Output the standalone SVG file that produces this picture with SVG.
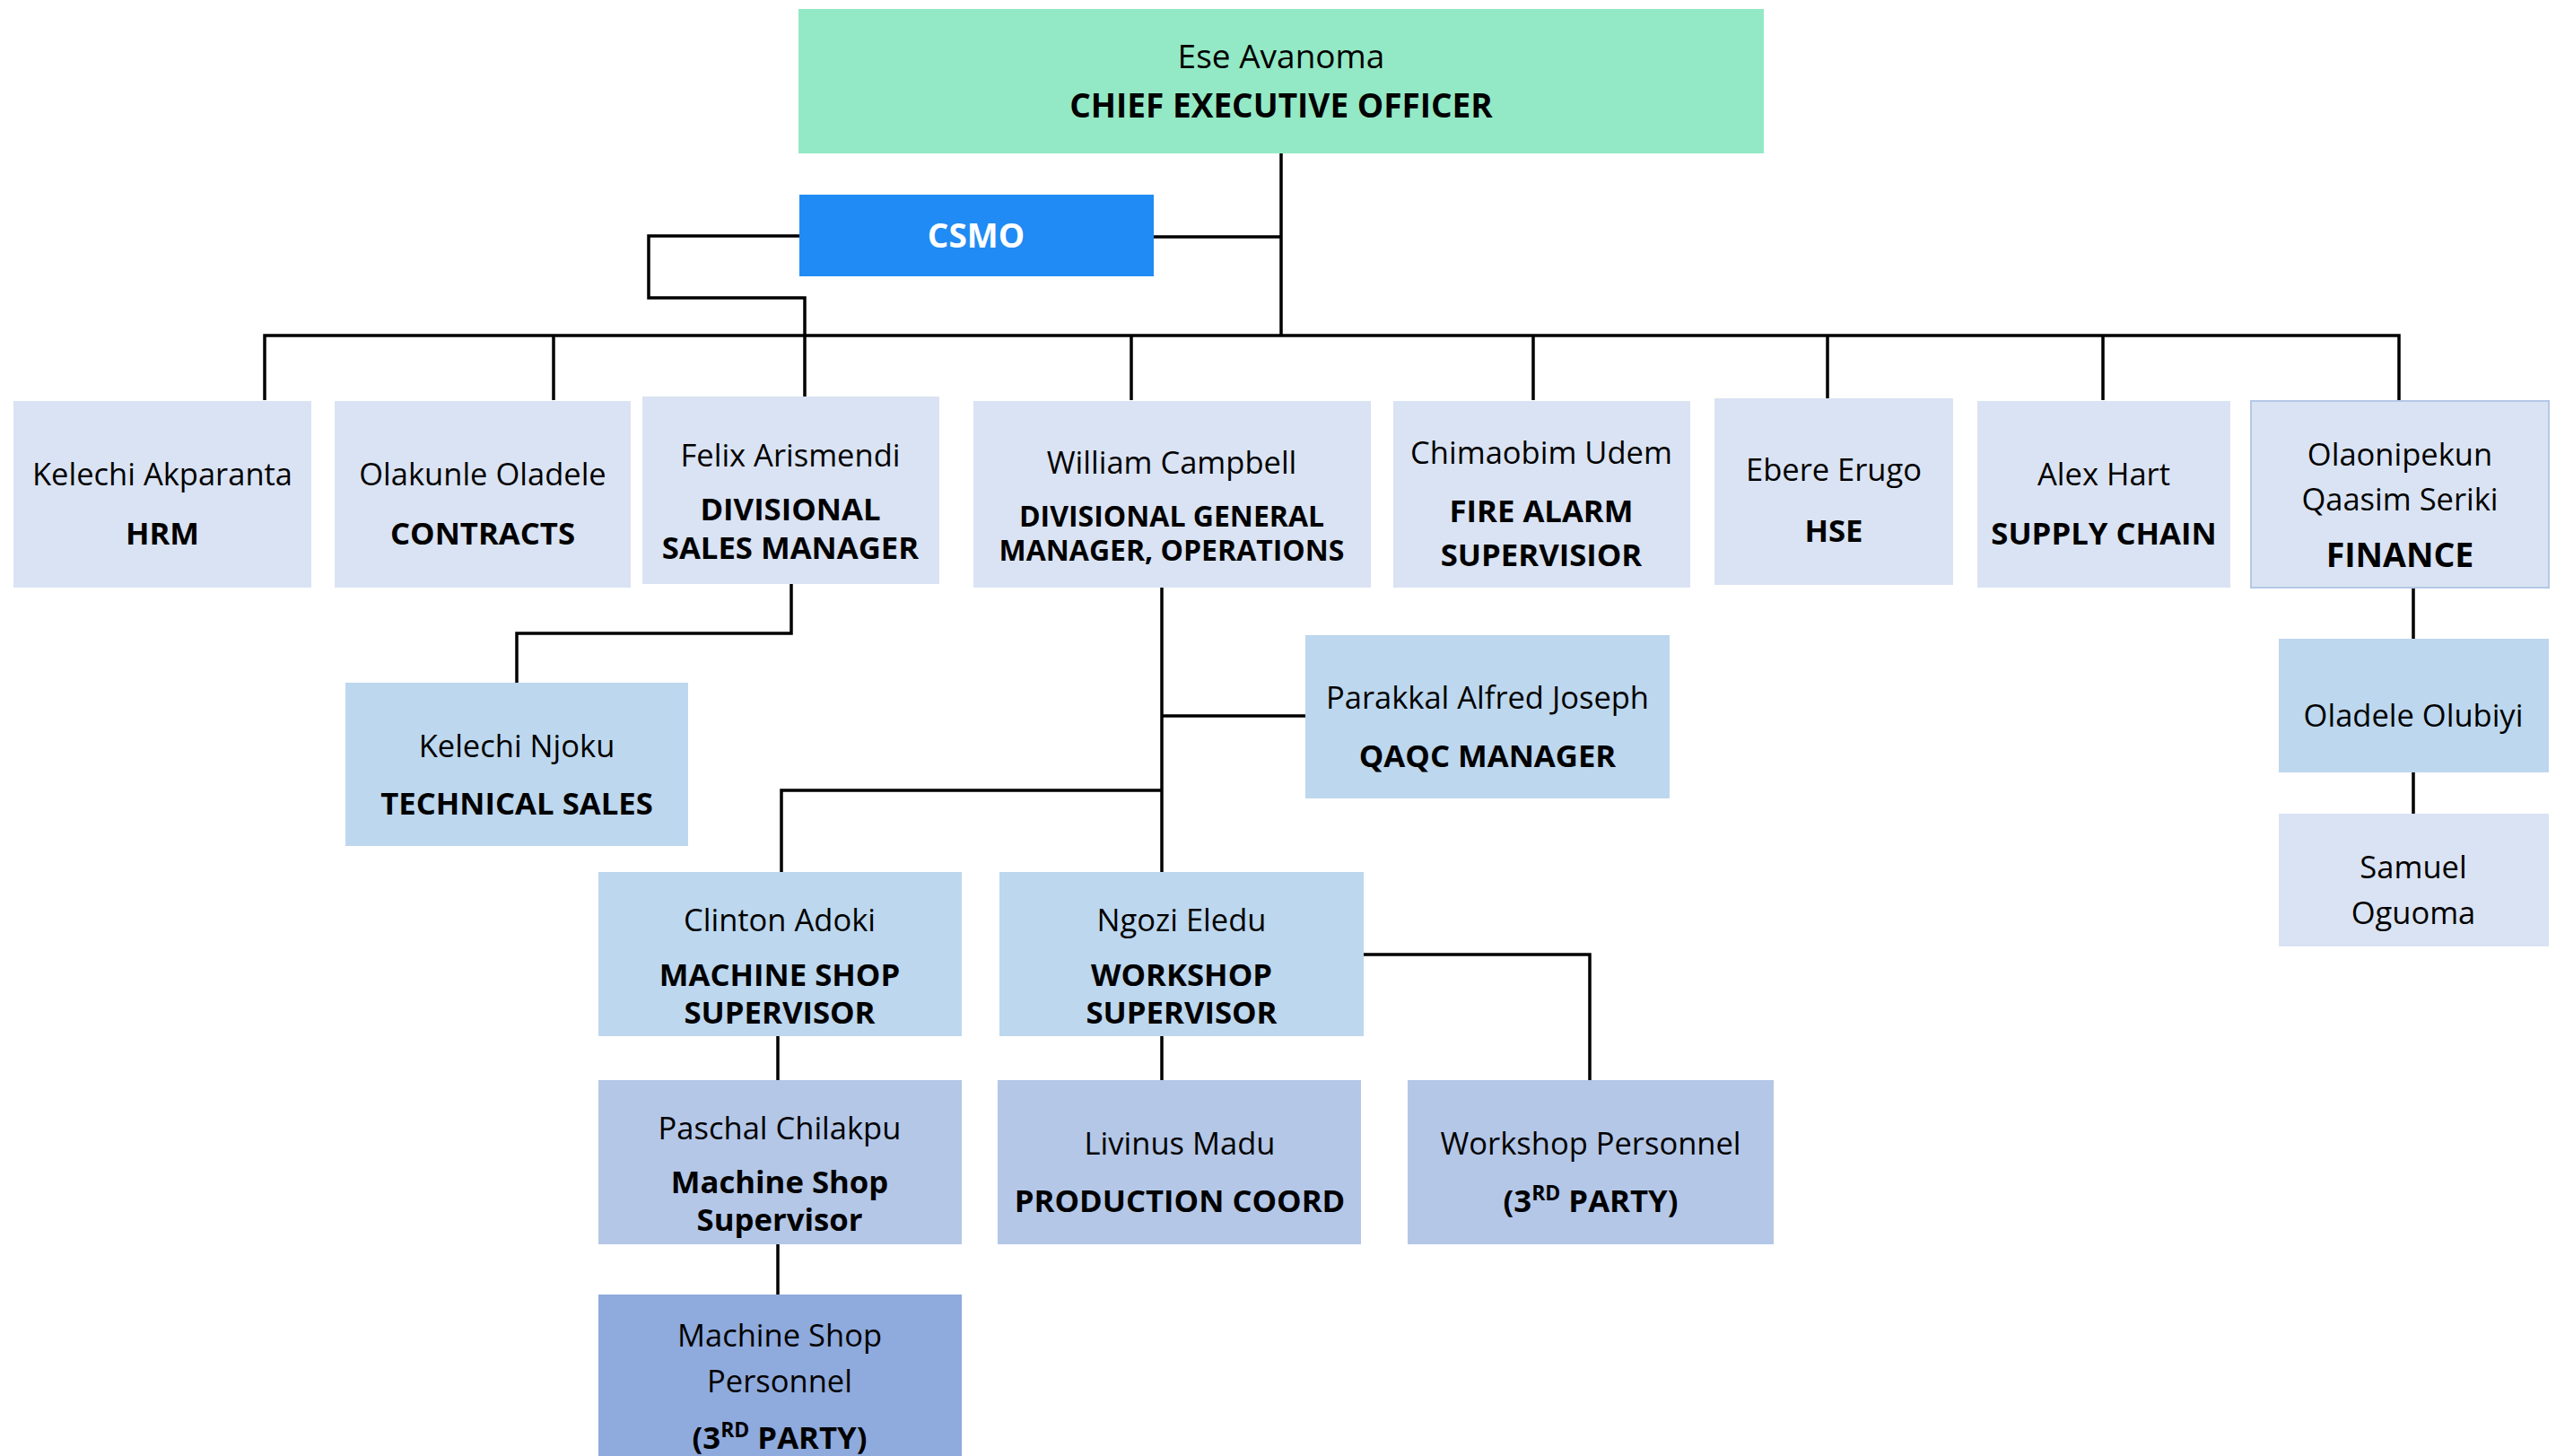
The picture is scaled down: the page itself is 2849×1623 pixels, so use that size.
<svg xmlns="http://www.w3.org/2000/svg" width="2849" height="1623" viewBox="0 0 2849 1623">
<style>
text{font-family:"Open Sans","Noto Sans","DejaVu Sans",sans-serif;text-anchor:middle;fill:#000}
.n{font-size:34.5px}
.t{font-size:34.7px;font-weight:bold}
.sup{font-size:23px}
.c1{fill:#DAE3F3}
.c2{fill:#BDD7EE}
.c3{fill:#B4C7E7}
.c4{fill:#8FAADC}
.ln{fill:none;stroke:#000;stroke-width:3.5}
</style>
<rect width="2849" height="1623" fill="#fff"/>
<g id="connectors" class="ln">
<path d="M1428 171V374"/>
<path d="M295 446V374H2674V446"/>
<path d="M617 374V446M1261 374V446M1709 374V446M2037 374V444M2344 374V446"/>
<path d="M1286 264H1428"/>
<path d="M891 263H723V332H897V442"/>
<path d="M882 651V706H576V761"/>
<path d="M1295 655V972"/>
<path d="M1295 798H1455"/>
<path d="M1295 881H871V972"/>
<path d="M1520 1064H1772V1204"/>
<path d="M867 1155V1204M1295 1155V1204M867 1387V1443"/>
<path d="M2690 655V712M2690 861V907"/>
</g>
<g id="ceo"><rect x="890" y="10" width="1076" height="161" fill="#93E9C5"/>
<text x="1428" y="76" style="font-size:37px">Ese Avanoma</text>
<text x="1428" y="131" style="font-size:37px;font-weight:bold">CHIEF EXECUTIVE OFFICER</text></g>
<g id="csmo"><rect x="891" y="217" width="395" height="91" fill="#208BF4"/>
<text x="1088" y="276" style="font-size:37px;font-weight:bold;fill:#fff">CSMO</text></g>
<g id="hrm"><rect class="c1" x="15" y="447" width="332" height="208"/>
<text class="n" x="181" y="541">Kelechi Akparanta</text><text class="t" x="181" y="607">HRM</text></g>
<g id="contracts"><rect class="c1" x="373" y="447" width="330" height="208"/>
<text class="n" x="538" y="541">Olakunle Oladele</text><text class="t" x="538" y="607">CONTRACTS</text></g>
<g id="sales"><rect class="c1" x="716" y="442" width="331" height="209"/>
<text class="n" x="881" y="520">Felix Arismendi</text><text class="t" x="881" y="580">DIVISIONAL</text><text class="t" x="881" y="623">SALES MANAGER</text></g>
<g id="operations"><rect class="c1" x="1085" y="447" width="443" height="208"/>
<text class="n" x="1306" y="528">William Campbell</text><text class="t" x="1306" y="587" style="font-size:32px">DIVISIONAL GENERAL</text><text class="t" x="1306" y="625" style="font-size:32px">MANAGER, OPERATIONS</text></g>
<g id="firealarm"><rect class="c1" x="1553" y="447" width="331" height="208"/>
<text class="n" x="1718" y="517">Chimaobim Udem</text><text class="t" x="1718" y="582">FIRE ALARM</text><text class="t" x="1718" y="631">SUPERVISIOR</text></g>
<g id="hse"><rect class="c1" x="1911" y="444" width="266" height="208"/>
<text class="n" x="2044" y="536">Ebere Erugo</text><text class="t" x="2044" y="604">HSE</text></g>
<g id="supply"><rect class="c1" x="2204" y="447" width="282" height="208"/>
<text class="n" x="2345" y="541">Alex Hart</text><text class="t" x="2345" y="607">SUPPLY CHAIN</text></g>
<g id="finance"><rect class="c1" x="2509" y="447" width="332" height="208" stroke="#B4C7E7" stroke-width="2"/>
<text class="n" x="2675" y="519">Olaonipekun</text><text class="n" x="2675" y="569">Qaasim Seriki</text><text class="t" x="2675" y="632" style="font-size:37.5px">FINANCE</text></g>
<g id="techsales"><rect class="c2" x="385" y="761" width="382" height="182"/>
<text class="n" x="576" y="844">Kelechi Njoku</text><text class="t" x="576" y="908">TECHNICAL SALES</text></g>
<g id="qaqc"><rect class="c2" x="1455" y="708" width="406" height="182"/>
<text class="n" x="1658" y="790">Parakkal Alfred Joseph</text><text class="t" x="1658" y="855">QAQC MANAGER</text></g>
<g id="machineshop"><rect class="c2" x="667" y="972" width="405" height="183"/>
<text class="n" x="869" y="1038">Clinton Adoki</text><text class="t" x="869" y="1099">MACHINE SHOP</text><text class="t" x="869" y="1141">SUPERVISOR</text></g>
<g id="workshop"><rect class="c2" x="1114" y="972" width="406" height="183"/>
<text class="n" x="1317" y="1038">Ngozi Eledu</text><text class="t" x="1317" y="1099">WORKSHOP</text><text class="t" x="1317" y="1141">SUPERVISOR</text></g>
<g id="paschal"><rect class="c3" x="667" y="1204" width="405" height="183"/>
<text class="n" x="869" y="1270">Paschal Chilakpu</text><text class="t" x="869" y="1330">Machine Shop</text><text class="t" x="869" y="1372">Supervisor</text></g>
<g id="livinus"><rect class="c3" x="1112" y="1204" width="405" height="183"/>
<text class="n" x="1315" y="1287">Livinus Madu</text><text class="t" x="1315" y="1351">PRODUCTION COORD</text></g>
<g id="workshoppersonnel"><rect class="c3" x="1569" y="1204" width="408" height="183"/>
<text class="n" x="1773" y="1287">Workshop Personnel</text><text class="t" x="1773" y="1351">(3<tspan class="sup" dy="-13">RD</tspan><tspan dy="13"> PARTY)</tspan></text></g>
<g id="machinepersonnel"><rect class="c4" x="667" y="1443" width="405" height="190"/>
<text class="n" x="869" y="1501">Machine Shop</text><text class="n" x="869" y="1552">Personnel</text><text class="t" x="869" y="1615">(3<tspan class="sup" dy="-13">RD</tspan><tspan dy="13"> PARTY)</tspan></text></g>
<g id="oladele"><rect class="c2" x="2540" y="712" width="301" height="149"/>
<text class="n" x="2690" y="810">Oladele Olubiyi</text></g>
<g id="samuel"><rect class="c1" x="2540" y="907" width="301" height="148"/>
<text class="n" x="2690" y="979">Samuel</text><text class="n" x="2690" y="1030">Oguoma</text></g>
</svg>
